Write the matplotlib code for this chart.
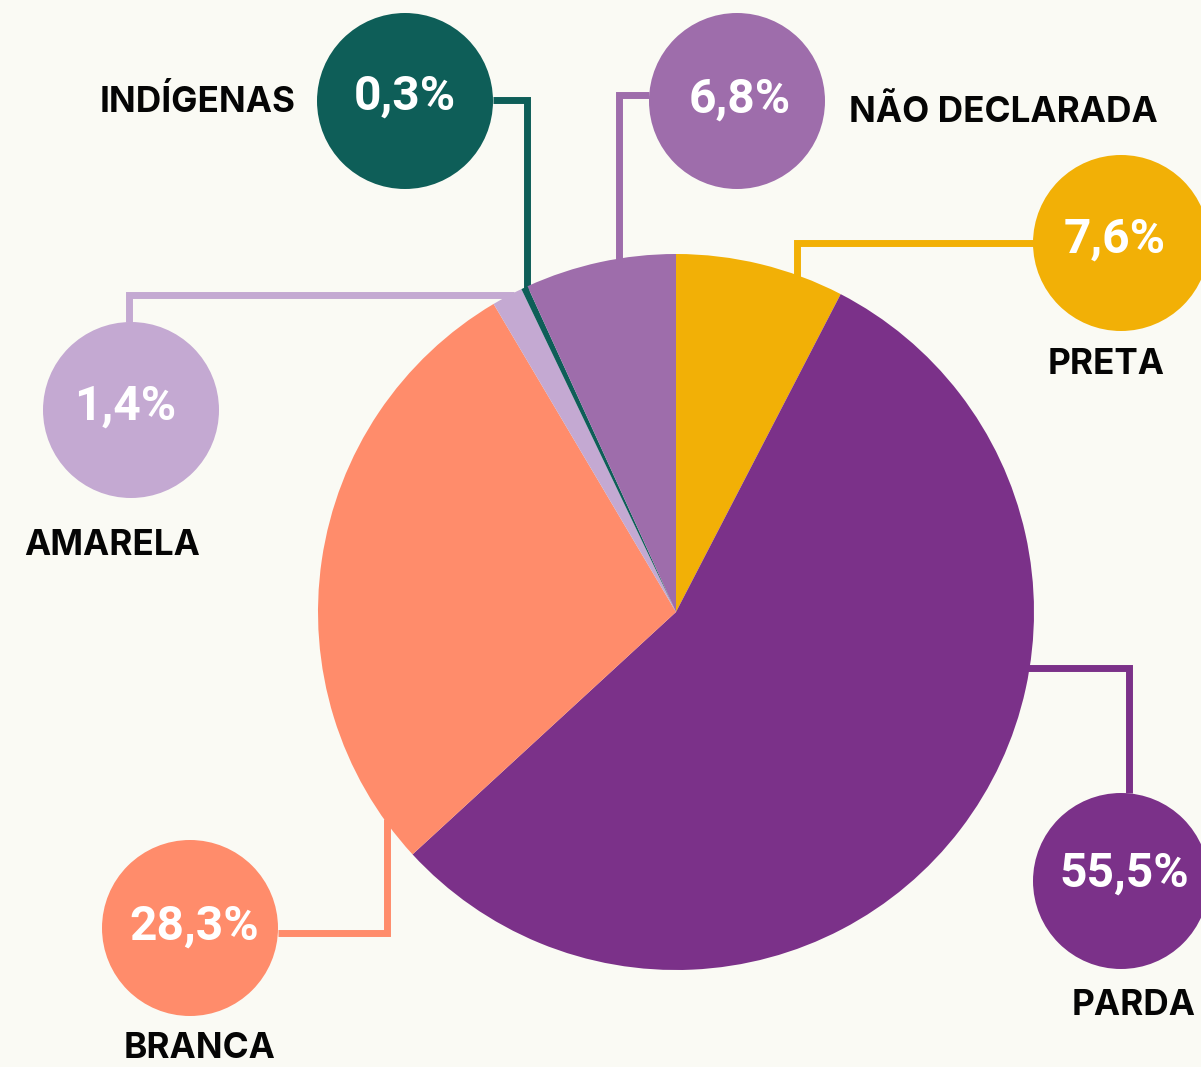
import numpy as np
import matplotlib
matplotlib.use('Agg')
import matplotlib.pyplot as plt
from matplotlib.patches import Circle

plt.rcParams['font.family'] = ['Inter', 'DejaVu Sans']

W, H = 1201, 1067

# slices clockwise from 12 o'clock
groups = ['PRETA', 'PARDA', 'BRANCA', 'AMARELA', 'INDÍGENAS', 'NÃO DECLARADA']
shares = [7.6, 55.5, 28.3, 1.4, 0.3, 6.8]
colors = ['#F2B006', '#7B3189', '#FF8C6B', '#C4A9D2', '#0E5E58', '#9E6DAB']
pct_labels = ['7,6%', '55,5%', '28,3%', '1,4%', '0,3%', '6,8%']

BG = '#FAFAF4'
CX, CY, R = 676, 612, 358
BUBBLE_R = 88
LW = 5.0

# bubble centre, value baseline, name anchor (x, y, ha), connector path
layout = {
    'PRETA': dict(c=(1121, 243), val=(1115, 253), name=(1106, 374, 'center'),
                  path=[(1034, 243), (797, 243), (797, 'edge')]),
    'PARDA': dict(c=(1121, 881), val=(1124, 887), name=(1134, 1015, 'center'),
                  path=[(1129, 793), (1129, 668), ('edge', 668)]),
    'BRANCA': dict(c=(190, 928), val=(194, 940), name=(200, 1058, 'center'),
                   path=[(278, 933), (387, 933), (387, 'edge_low')]),
    'AMARELA': dict(c=(131, 410), val=(125, 420), name=(112, 555, 'center'),
                    path=[(129, 322), (129, 295), ('edge_left', 295)]),
    'INDÍGENAS': dict(c=(405, 101), val=(405, 110), name=(296, 112, 'right'),
                      path=[(493, 100), (527, 100), (527, 'edge')]),
    'NÃO DECLARADA': dict(c=(737, 101), val=(740, 113), name=(849, 122, 'left'),
                          path=[(649, 95), (619, 95), (619, 'edge')]),
}


def to_y(y):
    return H - y


def edge_point(p):
    # resolve the end of a connector on the pie rim
    x, y = p
    if x == 'edge':
        return CX + np.sqrt(R ** 2 - (y - CY) ** 2) - 4, y
    if x == 'edge_left':
        return CX - np.sqrt(R ** 2 - (y - CY) ** 2) + 4, y
    if y == 'edge':
        return x, CY - np.sqrt(R ** 2 - (x - CX) ** 2) + 4
    if y == 'edge_low':
        return x, CY + np.sqrt(R ** 2 - (x - CX) ** 2) - 4
    return x, y


fig = plt.figure(figsize=(W / 100, H / 100), dpi=100, facecolor=BG)
ax = fig.add_axes([0, 0, 1, 1])
ax.set_facecolor(BG)

ax.pie(shares, colors=colors, startangle=90, counterclock=False,
       center=(CX, to_y(CY)), radius=R, frame=True,
       wedgeprops=dict(linewidth=0, zorder=3))
ax.set_xlim(0, W)
ax.set_ylim(0, H)
ax.set_aspect('equal')
ax.axis('off')

for name, col, pct in zip(groups, colors, pct_labels):
    spec = layout[name]
    pts = [edge_point(p) for p in spec['path']]
    xs = [p[0] for p in pts]
    ys = [to_y(p[1]) for p in pts]
    ax.plot(xs, ys, color=col, lw=LW, solid_joinstyle='miter',
            solid_capstyle='butt', zorder=2)

    cx, cy = spec['c']
    ax.add_patch(Circle((cx, to_y(cy)), BUBBLE_R, color=col, lw=0, zorder=4))

    vx, vy = spec['val']
    ax.text(vx, to_y(vy), pct, color='white', fontsize=34.5,
            family=['Roboto', 'DejaVu Sans'], fontweight='bold',
            ha='center', va='baseline', zorder=5)

    nx, ny, ha = spec['name']
    ax.text(nx, to_y(ny), name, color='#050505', fontsize=25.3,
            fontweight='bold', ha=ha, va='baseline', zorder=5)

fig.savefig('out.png', dpi=100, facecolor=BG)
